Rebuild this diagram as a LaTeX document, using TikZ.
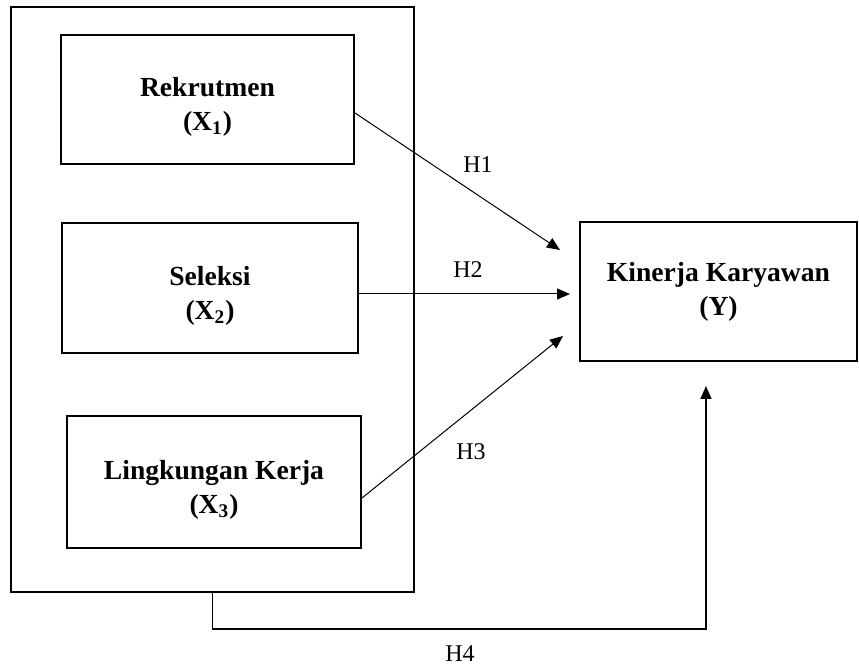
\documentclass[tikz,border=0pt]{standalone}
\usepackage{fontspec}
\setmainfont{Liberation Serif}
\usetikzlibrary{arrows.meta}
\tikzset{
	varbox/.style={draw, rectangle, line width=1pt, text centered, align=center, font=\bfseries\fontsize{13.8}{17}\selectfont},
	hlabel/.style={font=\fontsize{12}{14}\selectfont},
	hyp/.style={-{Triangle[length=6.5pt,width=5.5pt]}, line width=0.5pt}
}
\newcommand{\lowtop}{\rule{0pt}{17pt}}
\begin{document}
\begin{tikzpicture}[x=0.5pt, y=-0.5pt]
		\useasboundingbox (0,0) rectangle (859,667);
		\node (outer) at (212.5,299.5) [draw, rectangle, line width=1pt, minimum width=201.5pt, minimum height=292.5pt] {};
		\node (rek) at (207.5,99.5) [varbox, minimum width=146.5pt, minimum height=64.5pt] {\lowtop Rekrutmen\\(X\textsubscript{1})};
		\node (sel) at (210,288) [varbox, minimum width=148pt, minimum height=65pt] {\lowtop Seleksi\\(X\textsubscript{2})};
		\node (ling) at (214,482) [varbox, minimum width=147pt, minimum height=66pt] {\lowtop Lingkungan Kerja\\(X\textsubscript{3})};
		\node (kin) at (718.5,291.5) [varbox, minimum width=138.5pt, minimum height=69.5pt] {Kinerja Karyawan\\(Y)};

		\coordinate (t1) at (560,250);
		\coordinate (t2) at (570,294);
		\coordinate (t3) at (563,336);

		\draw [hyp] ([yshift=-6.75pt]rek.east) -- (t1);
		\draw [hyp] ([yshift=-3pt]sel.east) -- (t2);
		\draw [hyp] ([yshift=-8pt]ling.east) -- (t3);
		\draw [hyp, line width=0.7pt] (outer.south) -- ++(0,36) -| ([xshift=-6.25pt,yshift=-12pt]kin.south);

		\node (h1) at (478,165) [hlabel] {H1};
		\node (h2) at (468,270) [hlabel] {H2};
		\node (h3) at (471,452) [hlabel] {H3};
		\node (h4) at (460,654) [hlabel] {H4};
	\end{tikzpicture}
\end{document}
